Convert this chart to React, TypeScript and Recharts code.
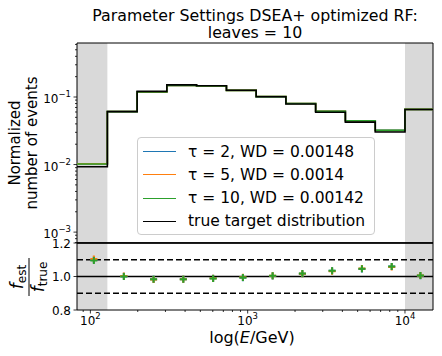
import React from 'react';
import {
  ComposedChart,
  Line,
  Scatter,
  XAxis,
  YAxis,
  ReferenceArea,
  ReferenceLine,
} from 'recharts';

// ---- data ----
// energy bin edges (GeV)
const binEdges = [82.2, 128.2, 198.2, 306.2, 473.2, 732.8, 1132, 1750, 2704, 4178, 6471, 10000, 15070];
// linear bin centres (GeV) where the ratio markers sit
const binCenters = [105.2, 163.2, 252.2, 389.7, 603.0, 932.4, 1441, 2227, 3441, 5325, 8236, 12535];

const trueDist = [0.0093, 0.0608, 0.121, 0.151, 0.147, 0.126, 0.101, 0.0789, 0.0596, 0.0425, 0.0303, 0.0652];
const tau2Dist = [0.01023, 0.0609, 0.1189, 0.1486, 0.1454, 0.1251, 0.1013, 0.0802, 0.0617, 0.0444, 0.0321, 0.0655];
const tau5Dist = [0.01028, 0.061, 0.1188, 0.1484, 0.1455, 0.1254, 0.1015, 0.0802, 0.0615, 0.0445, 0.032, 0.0656];
const tau10Dist = [0.01018, 0.0608, 0.1191, 0.1486, 0.1452, 0.1252, 0.1014, 0.0803, 0.0616, 0.0445, 0.0321, 0.0656];

const tau2Ratio = [1.1, 1.001, 0.983, 0.984, 0.989, 0.993, 1.003, 1.017, 1.035, 1.045, 1.059, 1.005];
const tau5Ratio = [1.105, 1.003, 0.982, 0.983, 0.99, 0.995, 1.005, 1.016, 1.032, 1.048, 1.057, 1.006];
const tau10Ratio = [1.095, 1.0, 0.984, 0.984, 0.988, 0.994, 1.004, 1.018, 1.034, 1.046, 1.06, 1.006];

const seriesLabels = ['τ = 2, WD = 0.00148', 'τ = 5, WD = 0.0014', 'τ = 10, WD = 0.00142', 'true target distribution'];
const seriesColors = ['#1f77b4', '#ff7f0e', '#2ca02c', '#000000'];

const titleLines = ['Parameter Settings DSEA+ optimized RF:', 'leaves = 10'];

const xTicks = [90, 100, 200, 300, 400, 500, 600, 700, 800, 900, 1000, 2000, 3000, 4000, 5000, 6000, 7000, 8000, 9000, 10000];
const yTopTicks = [0.0007, 0.0008, 0.0009, 0.001, 0.002, 0.003, 0.004, 0.005, 0.006, 0.007, 0.008, 0.009, 0.01, 0.02, 0.03, 0.04, 0.05, 0.06, 0.07, 0.08, 0.09, 0.1, 0.2, 0.3, 0.4, 0.5, 0.6];
const yRatioTicks = [0.8, 1.0, 1.2];

const X_DOMAIN: [number, number] = [82.2, 15070];
const Y_TOP_DOMAIN: [number, number] = [0.00069, 0.63];
const FONT = 'DejaVu Sans, sans-serif';

const stepData = (vals: number[]) =>
  binEdges.map((e, i) => ({ x: e, y: vals[Math.min(i, vals.length - 1)] }));
const ratioData = (vals: number[]) => binCenters.map((c, i) => ({ x: c, y: vals[i] }));

const isMajor = (v: number) => {
  const lg = Math.log10(v);
  return Math.abs(lg - Math.round(lg)) < 1e-6;
};

const LogYTick = (props: any) => {
  const { x, y, payload } = props;
  const v = payload.value;
  const major = isMajor(v);
  const exp = Math.round(Math.log10(v));
  return (
    <g>
      <line x1={x - (major ? 3.5 : 2)} x2={x} y1={y} y2={y} stroke="#000" strokeWidth={0.8} />
      {major && (
        <text x={x - 6} y={y + 6} textAnchor="end" fontSize={12} fontFamily={FONT} fill="#000">
          10
          <tspan dy={-6} fontSize={8.5}>{`−${-exp}`}</tspan>
        </text>
      )}
    </g>
  );
};

const RatioYTick = (props: any) => {
  const { x, y, payload } = props;
  return (
    <g>
      <line x1={x - 3.5} x2={x} y1={y} y2={y} stroke="#000" strokeWidth={0.8} />
      <text x={x - 6} y={y + 4.5} textAnchor="end" fontSize={12} fontFamily={FONT} fill="#000">
        {payload.value.toFixed(1)}
      </text>
    </g>
  );
};

const LogXTick = (props: any) => {
  const { x, y, payload } = props;
  const v = payload.value;
  const major = isMajor(v);
  const exp = Math.round(Math.log10(v));
  return (
    <g>
      <line x1={x} x2={x} y1={y} y2={y + (major ? 3.5 : 2)} stroke="#000" strokeWidth={0.8} />
      {major && (
        <text x={x} y={y + 15} textAnchor="middle" fontSize={12} fontFamily={FONT} fill="#000">
          10
          <tspan dy={-6} fontSize={8.5}>{`${exp}`}</tspan>
        </text>
      )}
    </g>
  );
};

const plusShape = (color: string) => (props: any) => {
  const { cx, cy } = props;
  return (
    <path
      d={`M${cx - 3.5},${cy}H${cx + 3.5}M${cx},${cy - 3.5}V${cy + 3.5}`}
      stroke={color}
      strokeWidth={2}
      fill="none"
    />
  );
};

const ratioSeries = [tau2Ratio, tau5Ratio, tau10Ratio];
const distSeries = [tau2Dist, tau5Dist, tau10Dist, trueDist];

export default function App() {
  return (
    <div
      style={{
        position: 'absolute',
        left: 0,
        top: 0,
        width: 442,
        height: 356,
        background: '#fff',
        fontFamily: FONT,
      }}
    >
      {/* top panel */}
      <div style={{ position: 'absolute', left: 0, top: 0 }}>
        <ComposedChart width={442} height={243} margin={{ top: 43, right: 9, bottom: 0, left: 17 }}>
          <XAxis
            type="number"
            dataKey="x"
            scale="log"
            domain={X_DOMAIN}
            allowDataOverflow
            hide
          />
          <YAxis
            type="number"
            scale="log"
            domain={Y_TOP_DOMAIN}
            allowDataOverflow
            ticks={yTopTicks}
            interval={0}
            width={60}
            tickSize={0}
            tickMargin={0}
            axisLine={false}
            tickLine={false}
            tick={<LogYTick />}
          />
          <ReferenceArea x1={binEdges[0]} x2={binEdges[1]} y1={Y_TOP_DOMAIN[0]} y2={Y_TOP_DOMAIN[1]} fill="#d9d9d9" fillOpacity={1} stroke="none" />
          <ReferenceArea x1={binEdges[11]} x2={binEdges[12]} y1={Y_TOP_DOMAIN[0]} y2={Y_TOP_DOMAIN[1]} fill="#d9d9d9" fillOpacity={1} stroke="none" />
          {distSeries.map((vals, i) => (
            <Line
              key={i}
              data={stepData(vals)}
              dataKey="y"
              type="stepAfter"
              stroke={seriesColors[i]}
              strokeWidth={1.6}
              dot={false}
              activeDot={false}
              isAnimationActive={false}
            />
          ))}
          <ReferenceArea x1={X_DOMAIN[0]} x2={X_DOMAIN[1]} y1={Y_TOP_DOMAIN[0]} y2={Y_TOP_DOMAIN[1]} fill="none" stroke="#000" strokeWidth={1} />
        </ComposedChart>
      </div>

      {/* ratio panel */}
      <div style={{ position: 'absolute', left: 0, top: 225 }}>
        <ComposedChart width={442} height={131} margin={{ top: 18, right: 9, bottom: 6, left: 17 }}>
          <XAxis
            type="number"
            dataKey="x"
            scale="log"
            domain={X_DOMAIN}
            allowDataOverflow
            ticks={xTicks}
            interval={0}
            height={40}
            tickSize={0}
            tickMargin={0}
            axisLine={false}
            tickLine={false}
            tick={<LogXTick />}
          />
          <YAxis
            type="number"
            domain={[0.8, 1.2]}
            allowDataOverflow
            ticks={yRatioTicks}
            interval={0}
            width={60}
            tickSize={0}
            tickMargin={0}
            axisLine={false}
            tickLine={false}
            tick={<RatioYTick />}
          />
          <ReferenceArea x1={binEdges[0]} x2={binEdges[1]} y1={0.8} y2={1.2} fill="#d9d9d9" fillOpacity={1} stroke="none" />
          <ReferenceArea x1={binEdges[11]} x2={binEdges[12]} y1={0.8} y2={1.2} fill="#d9d9d9" fillOpacity={1} stroke="none" />
          <ReferenceLine y={1.0} stroke="#000" strokeWidth={1.5} />
          <ReferenceLine y={1.1} stroke="#000" strokeWidth={1.5} strokeDasharray="6 3" />
          <ReferenceLine y={0.9} stroke="#000" strokeWidth={1.5} strokeDasharray="6 3" />
          <ReferenceLine y={1.2} stroke="#000" strokeWidth={1.5} />
          {ratioSeries.map((vals, i) => (
            <Scatter
              key={i}
              data={ratioData(vals)}
              dataKey="y"
              shape={plusShape(seriesColors[i])}
              isAnimationActive={false}
            />
          ))}
          <ReferenceArea x1={X_DOMAIN[0]} x2={X_DOMAIN[1]} y1={0.8} y2={1.2} fill="none" stroke="#000" strokeWidth={1} />
        </ComposedChart>
      </div>

      {/* legend */}
      <div
        style={{
          position: 'absolute',
          left: 137,
          top: 137,
          width: 236,
          height: 96,
          border: '1px solid #cccccc',
          borderRadius: 4,
          background: 'rgba(255,255,255,0.8)',
        }}
      >
        {seriesLabels.map((lab, i) => (
          <div
            key={i}
            style={{
              position: 'absolute',
              left: 5,
              top: 2 + i * 23.3,
              height: 23,
              display: 'flex',
              alignItems: 'center',
              whiteSpace: 'nowrap',
            }}
          >
            <div style={{ width: 33, height: 0, borderTop: `1.6px solid ${seriesColors[i]}` }} />
            <span style={{ marginLeft: 12, fontSize: 15.5, color: '#000' }}>{lab}</span>
          </div>
        ))}
      </div>

      {/* text overlay */}
      <svg
        width={442}
        height={356}
        style={{ position: 'absolute', left: 0, top: 0, pointerEvents: 'none' }}
        fontFamily={FONT}
      >
        <text x={255} y={21} textAnchor="middle" fontSize={15.8} fill="#000">{titleLines[0]}</text>
        <text x={255} y={38} textAnchor="middle" fontSize={15.8} fill="#000">{titleLines[1]}</text>
        <g transform="translate(15,143) rotate(-90)">
          <text x={0} y={0} textAnchor="middle" dominantBaseline="central" fontSize={15} fill="#000">Normalized</text>
        </g>
        <g transform="translate(32,143) rotate(-90)">
          <text x={0} y={0} textAnchor="middle" dominantBaseline="central" fontSize={15} fill="#000">number of events</text>
        </g>
        <g transform="translate(29,277) rotate(-90)">
          <text x={0} y={-6} textAnchor="middle" fontSize={17} fill="#000">
            <tspan fontStyle="italic">f</tspan>
            <tspan fontSize={12} dy={3}>est</tspan>
          </text>
          <line x1={-19} x2={19} y1={0} y2={0} stroke="#000" strokeWidth={1} />
          <text x={0} y={15} textAnchor="middle" fontSize={17} fill="#000">
            <tspan fontStyle="italic">f</tspan>
            <tspan fontSize={12} dy={3}>true</tspan>
          </text>
        </g>
        <text x={252} y={343} textAnchor="middle" fontSize={16} fill="#000">
          log(<tspan fontStyle="italic">E</tspan>/GeV)
        </text>
      </svg>
    </div>
  );
}
